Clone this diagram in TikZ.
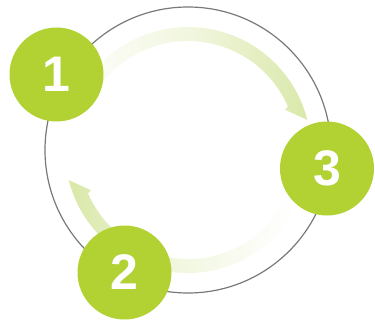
\documentclass[tikz,border=0pt]{standalone}
\usepackage{fontspec}
\setmainfont{Liberation Sans}
\usetikzlibrary{calc}
\definecolor{numgreen}{RGB}{178,210,52}
\definecolor{arrowgreen}{RGB}{218,232,170}
\definecolor{ringgray}{RGB}{120,120,120}
\pgfdeclarehorizontalshading{fadeone}{100bp}{color(0bp)=(white); color(27bp)=(arrowgreen!8!white); color(50bp)=(arrowgreen!40!white); color(75bp)=(arrowgreen); color(100bp)=(arrowgreen)}
\pgfdeclarehorizontalshading{fadetwo}{100bp}{color(0bp)=(arrowgreen); color(26bp)=(arrowgreen); color(46bp)=(arrowgreen!42!white); color(68bp)=(arrowgreen!8!white); color(75bp)=(white); color(100bp)=(white)}
\tikzset{
  numcircle/.style={circle, fill=numgreen, minimum size=94pt, inner sep=0pt,
    text=white, font=\fontsize{50}{50}\selectfont\bfseries},
  ringstyle/.style={circle, draw=ringgray, line width=1.2pt, minimum size=286pt, inner sep=0pt},
  arrowone/.style={shading=fadeone},
  arrowtwo/.style={shading=fadetwo}
}
\begin{document}
\begin{tikzpicture}[x=1pt,y=1pt]
\useasboundingbox (0,0) rectangle (375,-321);
\coordinate (C) at (188,-150);
\node[ringstyle] (ring) at (C) {};
% arrow 1: from 1 towards 3
\coordinate (a1s) at ($(C)+(150:123)$);
\coordinate (a1t) at ($(C)+(14:123.5)$);
\coordinate (a1b) at ($(C)+(22.5:105)$);
\coordinate (a1i) at ($(C)+(23.5:109)$);
\shade[arrowone] (a1s) arc[start angle=150, end angle=14, radius=123] -- (a1t) -- (a1b) -- (a1i)
  arc[start angle=23.5, end angle=150, radius=109] -- cycle;
% arrow 2: from 3 towards 1 (behind 2)
\coordinate (a2s) at ($(C)+(332:123)$);
\coordinate (a2t) at ($(C)+(194:123.5)$);
\coordinate (a2b) at ($(C)+(202.5:105)$);
\coordinate (a2i) at ($(C)+(203.5:109)$);
\shade[arrowtwo] (a2s) arc[start angle=-28, end angle=-166, radius=123] -- (a2t) -- (a2b) -- (a2i)
  arc[start angle=-156.5, end angle=-28, radius=109] -- cycle;
\node[numcircle] (n1) at (56.5,-74.5) {1};
\node[numcircle] (n3) at (327,-168.5) {3};
\node[numcircle] (n2) at (124.5,-272.5) {2};
\end{tikzpicture}
\end{document}
